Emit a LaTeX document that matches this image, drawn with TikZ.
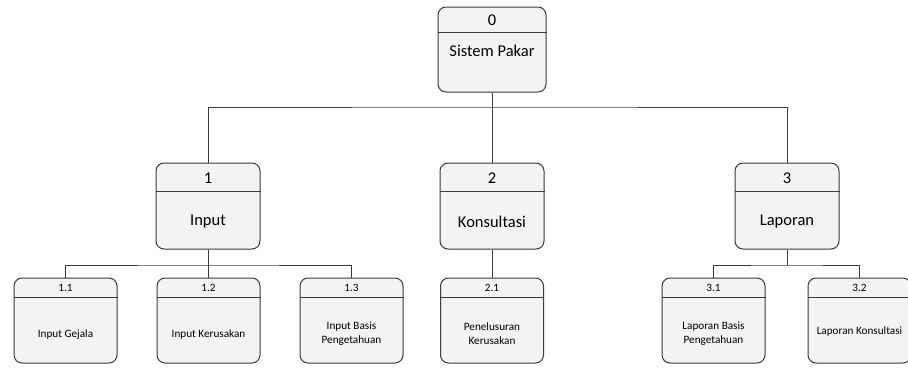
\documentclass[tikz,border=0pt]{standalone}
\usepackage{fontspec}
\setmainfont{Carlito}
\definecolor{edge}{HTML}{3A3A3A}
\definecolor{boxfill}{HTML}{F3F3F3}
\tikzset{
  bigbox/.style={draw=edge, line width=1pt, fill=boxfill, rounded corners=8pt, minimum width=104pt, minimum height=86pt, inner sep=0pt},
  smallbox/.style={draw=edge, line width=1pt, fill=boxfill, rounded corners=8pt, minimum width=103pt, minimum height=85pt, inner sep=0pt},
  bigtxt/.style={font=\fontsize{16.5}{19}\selectfont, align=center, text=black},
  smalltxt/.style={font=\fontsize{11.2}{13.5}\selectfont, align=center, text=black},
  conn/.style={draw=edge, line width=1pt},
  divline/.style={draw=edge, line width=1pt}
}
\begin{document}
\begin{tikzpicture}[x=1pt,y=-1pt]
\useasboundingbox (0,0) rectangle (908,367);
% level 0
\node[bigbox, minimum width=108pt, minimum height=85pt] (n0) at (492,49.5) {};
\draw[divline] ([yshift=-26pt]n0.north west) -- ([yshift=-26pt]n0.north east);
\node[bigtxt] (t0) at (492,20) {0};
\node[bigtxt] (l0) at (492,51) {Sistem Pakar};
% level 1
\node[bigbox] (n1) at (208,206) {};
\node[bigbox] (n2) at (492,206) {};
\node[bigbox] (n3) at (787,206) {};
\foreach \n in {n1,n2,n3}{
  \draw[divline] ([yshift=-29pt]\n.north west) -- ([yshift=-29pt]\n.north east);
}
\node[bigtxt] (t1) at (208,178) {1};
\node[bigtxt] (t2) at (492,178) {2};
\node[bigtxt] (t3) at (787,178) {3};
\node[bigtxt] (l1) at (208,222) {Input};
\node[bigtxt] (l2) at (492,222) {Konsultasi};
\node[bigtxt] (l3) at (787,222) {Laporan};
% level 2
\node[smallbox] (n11) at (65.5,320.5) {};
\node[smallbox] (n12) at (208.5,320.5) {};
\node[smallbox] (n13) at (351.5,320.5) {};
\node[smallbox] (n21) at (492,320.5) {};
\node[smallbox] (n31) at (713.5,320.5) {};
\node[smallbox] (n32) at (859.5,320.5) {};
\foreach \n in {n11,n12,n13,n21,n31,n32}{
  \draw[divline] ([yshift=-20pt]\n.north west) -- ([yshift=-20pt]\n.north east);
}
\node[smalltxt] (t11) at (65.5,288) {1.1};
\node[smalltxt] (t12) at (208.5,288) {1.2};
\node[smalltxt] (t13) at (351.5,288) {1.3};
\node[smalltxt] (t21) at (492,288) {2.1};
\node[smalltxt] (t31) at (713.5,288) {3.1};
\node[smalltxt] (t32) at (859.5,288) {3.2};
\node[smalltxt] (l11) at (65.5,335) {Input Gejala};
\node[smalltxt] (l12) at (208.5,335) {Input Kerusakan};
\node[smalltxt] (l13) at (351.5,333.5) {Input Basis\\Pengetahuan};
\node[smalltxt] (l21) at (492,333.5) {Penelusuran\\Kerusakan};
\node[smalltxt] (l31) at (713.5,333.5) {Laporan Basis\\Pengetahuan};
\node[smalltxt] (l32) at (859.5,332) {Laporan Konsultasi};
% connectors
\coordinate (j0) at (492,107);
\coordinate (j1) at (208,265);
\coordinate (j3) at (787,265);
\draw[conn] (n0.south) -- (j0);
\draw[conn] (n1.north) |- (j0) -| (n3.north);
\draw[conn] (n2.north) -- (n2.north |- j0);
\draw[conn] (n1.south) -- (j1);
\draw[conn] (n11.north) |- (j1) -| (n13.north);
\draw[conn] (n12.north) -- (n12.north |- j1);
\draw[conn] (n2.south) -- (n21.north);
\draw[conn] (n3.south) -- (j3);
\draw[conn] (n31.north) |- (j3) -| (n32.north);
\end{tikzpicture}
\end{document}
